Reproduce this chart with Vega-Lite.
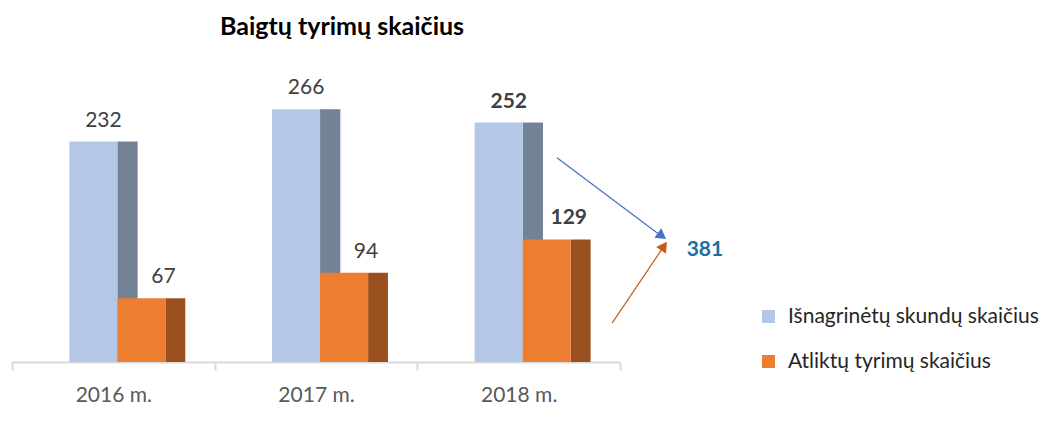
{
  "$schema": "https://vega.github.io/schema/vega-lite/v6.json",
  "width": 608,
  "height": 285,
  "autosize": "none",
  "padding": {"left": 12, "top": 77, "right": 442, "bottom": 59},
  "background": "white",
  "config": {"view": {"stroke": null}, "font": "Lato"},
  "title": {"text": "Baigtų tyrimų skaičius", "fontSize": 25, "fontWeight": "bold", "color": "#000000", "anchor": "middle", "dx": 26, "offset": 37, "font": "Lato"},
  "datasets": {
    "bars": [
      {"year": "2016 m.", "series": "Išnagrinėtų skundų skaičius", "value": 232},
      {"year": "2016 m.", "series": "Atliktų tyrimų skaičius", "value": 67},
      {"year": "2017 m.", "series": "Išnagrinėtų skundų skaičius", "value": 266},
      {"year": "2017 m.", "series": "Atliktų tyrimų skaičius", "value": 94},
      {"year": "2018 m.", "series": "Išnagrinėtų skundų skaičius", "value": 252},
      {"year": "2018 m.", "series": "Atliktų tyrimų skaičius", "value": 129}
    ],
    "note": [{"year": "2018 m.", "total": 381}]
  },
  "data": {"name": "bars"},
  "layer": [
    {
      "transform": [{"filter": "datum.series == 'Išnagrinėtų skundų skaičius'"}],
      "mark": {"type": "bar", "color": "#748297"},
      "encoding": {
        "x": {"field": "year", "type": "nominal", "sort": null, "bandPosition": 0.52,
          "scale": {"paddingInner": 0, "paddingOuter": 0},
          "axis": {"title": null, "labelAngle": 0, "labelFontSize": 21, "labelColor": "#595959", "labelPadding": 14,
            "domainColor": "#D9D9D9", "domainWidth": 2, "tickColor": "#D9D9D9", "tickWidth": 2, "tickSize": 8, "tickBand": "extent", "labelFont": "Lato"}},
        "x2": {"field": "year", "bandPosition": 0.62},
        "y": {"field": "value", "type": "quantitative", "scale": {"domain": [0, 300]}, "axis": null},
        "y2": {"datum": 0}
      }
    },
    {
      "transform": [{"filter": "datum.series == 'Atliktų tyrimų skaičius'"}],
      "mark": {"type": "bar", "color": "#9A4F1E"},
      "encoding": {
        "x": {"field": "year", "type": "nominal", "sort": null, "bandPosition": 0.757},
        "x2": {"field": "year", "bandPosition": 0.855},
        "y": {"field": "value", "type": "quantitative"},
        "y2": {"datum": 0}
      }
    },
    {
      "transform": [{"filter": "datum.series == 'Išnagrinėtų skundų skaičius'"}],
      "mark": {"type": "bar"},
      "encoding": {
        "x": {"field": "year", "type": "nominal", "sort": null, "bandPosition": 0.283},
        "x2": {"field": "year", "bandPosition": 0.52},
        "y": {"field": "value", "type": "quantitative"},
        "y2": {"datum": 0},
        "color": {"field": "series", "type": "nominal",
          "scale": {"domain": ["Išnagrinėtų skundų skaičius", "Atliktų tyrimų skaičius"], "range": ["#B4C7E7", "#ED7D31"]},
          "legend": {"title": null, "orient": "none", "legendX": 746, "legendY": 229, "symbolType": "square", "symbolSize": 169, "symbolStrokeWidth": 0, "labelFontSize": 21, "labelColor": "#262626", "labelFont": "Lato", "labelLimit": 400, "rowPadding": 23, "labelOffset": 9}}
      }
    },
    {
      "transform": [{"filter": "datum.series == 'Atliktų tyrimų skaičius'"}],
      "mark": {"type": "bar"},
      "encoding": {
        "x": {"field": "year", "type": "nominal", "sort": null, "bandPosition": 0.52},
        "x2": {"field": "year", "bandPosition": 0.757},
        "y": {"field": "value", "type": "quantitative"},
        "y2": {"datum": 0},
        "color": {"field": "series", "type": "nominal"}
      }
    },
    {
      "transform": [{"filter": "datum.year != '2018 m.' && datum.series == 'Išnagrinėtų skundų skaičius'"}],
      "mark": {"type": "text", "fontSize": 21, "color": "#404040", "baseline": "bottom", "dy": -11},
      "encoding": {
        "x": {"field": "year", "type": "nominal", "sort": null, "bandPosition": 0.451},
        "y": {"field": "value", "type": "quantitative"},
        "text": {"field": "value", "type": "quantitative"}
      }
    },
    {
      "transform": [{"filter": "datum.year != '2018 m.' && datum.series == 'Atliktų tyrimų skaičius'"}],
      "mark": {"type": "text", "fontSize": 21, "color": "#404040", "baseline": "bottom", "dy": -11},
      "encoding": {
        "x": {"field": "year", "type": "nominal", "sort": null, "bandPosition": 0.747},
        "y": {"field": "value", "type": "quantitative"},
        "text": {"field": "value", "type": "quantitative"}
      }
    },
    {
      "transform": [{"filter": "datum.year == '2018 m.' && datum.series == 'Išnagrinėtų skundų skaičius'"}],
      "mark": {"type": "text", "fontSize": 21, "fontWeight": "bold", "color": "#404040", "baseline": "bottom", "dy": -11},
      "encoding": {
        "x": {"field": "year", "type": "nominal", "sort": null, "bandPosition": 0.451},
        "y": {"field": "value", "type": "quantitative"},
        "text": {"field": "value", "type": "quantitative"}
      }
    },
    {
      "transform": [{"filter": "datum.year == '2018 m.' && datum.series == 'Atliktų tyrimų skaičius'"}],
      "mark": {"type": "text", "fontSize": 21, "fontWeight": "bold", "color": "#404040", "baseline": "bottom", "dy": -11},
      "encoding": {
        "x": {"field": "year", "type": "nominal", "sort": null, "bandPosition": 0.747},
        "y": {"field": "value", "type": "quantitative"},
        "text": {"field": "value", "type": "quantitative"}
      }
    },
    {
      "data": {"name": "note"},
      "mark": {"type": "rule", "color": "#4472C4", "strokeWidth": 1.2},
      "encoding": {
        "x": {"field": "year", "type": "nominal", "sort": null, "bandPosition": 0.689},
        "x2": {"field": "year", "bandPosition": 1.207},
        "y": {"datum": 215, "type": "quantitative"}, "y2": {"datum": 132}
      }
    },
    {
      "data": {"name": "note"},
      "mark": {"type": "rule", "color": "#C55A11", "strokeWidth": 1.2},
      "encoding": {
        "x": {"field": "year", "type": "nominal", "sort": null, "bandPosition": 0.961},
        "x2": {"field": "year", "bandPosition": 1.217},
        "y": {"datum": 41, "type": "quantitative"}, "y2": {"datum": 122}
      }
    },
    {
      "data": {"name": "note"},
      "mark": {"type": "point", "shape": "triangle-up", "filled": true, "color": "#4472C4", "size": 140, "angle": 126.5, "opacity": 1},
      "encoding": {
        "x": {"field": "year", "type": "nominal", "sort": null, "bandPosition": 1.207},
        "y": {"datum": 132.6, "type": "quantitative"}
      }
    },
    {
      "data": {"name": "note"},
      "mark": {"type": "point", "shape": "triangle-up", "filled": true, "color": "#C55A11", "size": 140, "angle": 34, "opacity": 1},
      "encoding": {
        "x": {"field": "year", "type": "nominal", "sort": null, "bandPosition": 1.217},
        "y": {"datum": 122, "type": "quantitative"}
      }
    },
    {
      "data": {"name": "note"},
      "mark": {"type": "text", "fontSize": 21, "fontWeight": "bold", "color": "#1B6FA3", "baseline": "middle"},
      "encoding": {
        "x": {"field": "year", "type": "nominal", "sort": null, "bandPosition": 1.419},
        "y": {"datum": 118, "type": "quantitative"},
        "text": {"field": "total", "type": "quantitative"}
      }
    }
  ]
}
